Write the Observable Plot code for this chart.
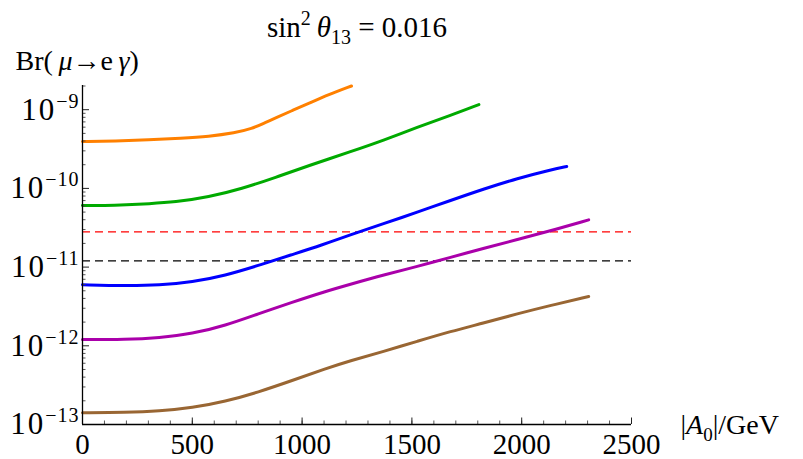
<!DOCTYPE html>
<html><head><meta charset="utf-8">
<script src="https://cdn.jsdelivr.net/npm/d3@7"></script>
<script src="https://cdn.jsdelivr.net/npm/@observablehq/plot@0.6"></script>
<style>
html,body{margin:0;padding:0;background:#fff;}
#chart svg{display:block;background:#fff;}
</style></head><body><div id="chart"></div>
<script>
// ---- data (A0 in GeV, Br values) ----
const seriesIds = ["s1", "s2", "s3", "s4", "s5"];

const a0_s1 = [0, 150, 300, 450, 575, 695, 770, 835, 880, 955, 1030, 1120, 1225];
const br_s1 = [3.94e-10, 4.00e-10, 4.14e-10, 4.34e-10, 4.57e-10, 5.09e-10, 5.71e-10, 6.92e-10, 7.85e-10, 9.77e-10, 1.20e-9, 1.55e-9, 2.0e-9];

const a0_s2 = [0, 100, 200, 300, 420, 575, 725, 880, 1030, 1220, 1370, 1525, 1675, 1805];
const br_s2 = [6.07e-11, 6.03e-11, 6.17e-11, 6.38e-11, 6.68e-11, 7.76e-11, 9.89e-11, 1.38e-10, 1.95e-10, 2.92e-10, 4.07e-10, 6.0e-10, 8.43e-10, 1.16e-9];

const a0_s3 = [0, 195, 350, 500, 650, 800, 950, 1090, 1220, 1370, 1525, 1675, 1830, 1980, 2132, 2205];
const br_s3 = [5.96e-12, 5.79e-12, 5.89e-12, 6.46e-12, 7.82e-12, 1.047e-11, 1.43e-11, 1.905e-11, 2.57e-11, 3.55e-11, 4.99e-11, 7.01e-11, 9.89e-11, 1.34e-10, 1.72e-10, 1.90e-10];

const a0_s4 = [0, 195, 350, 500, 650, 800, 955, 1105, 1230, 1370, 1525, 1675, 1830, 1980, 2130, 2305];
const br_s4 = [1.20e-12, 1.20e-12, 1.265e-12, 1.42e-12, 1.81e-12, 2.55e-12, 3.58e-12, 4.90e-12, 6.17e-12, 7.94e-12, 1.02e-11, 1.33e-11, 1.74e-11, 2.24e-11, 2.88e-11, 3.98e-11];

const a0_s5 = [0, 195, 350, 500, 650, 800, 955, 1105, 1220, 1370, 1525, 1675, 1830, 1980, 2130, 2305];
const br_s5 = [1.41e-13, 1.42e-13, 1.476e-13, 1.63e-13, 1.96e-13, 2.57e-13, 3.62e-13, 5.10e-13, 6.46e-13, 8.47e-13, 1.14e-12, 1.52e-12, 1.96e-12, 2.55e-12, 3.25e-12, 4.23e-12];

const limitValues = [2.8e-11, 1.2e-11];          // dashed horizontal bounds
const yMajorTicks = [1e-13, 1e-12, 1e-11, 1e-10, 1e-9];
const yMinorTicks = yMajorTicks.flatMap(d => [2,3,4,5,6,7,8,9].map(m => +(m * d).toPrecision(2))).filter(v => v <= 2.03e-9);
const xMajorTicks = [0, 500, 1000, 1500, 2000, 2500];
const xMinorTicks = d3.range(0, 2501, 100);

// ---- styles ----
const palette = ["#FF8000", "#00AA00", "#0000FF", "#AA00AA", "#996633"];
const limitColors = ["#FF0000", "#000000"];
const FONT = "'Liberation Serif', 'Times New Roman', serif";

const xs = [a0_s1, a0_s2, a0_s3, a0_s4, a0_s5];
const ys = [br_s1, br_s2, br_s3, br_s4, br_s5];
const rows = seriesIds.flatMap((id, i) => xs[i].map((x, j) => ({id, x, y: ys[i][j]})));

const W = 803, H = 459, mL = 82, mR = 172, mT = 85, mB = 35;
const pw = W - mL - mR, ph = H - mT - mB;

const chart = Plot.plot({
  width: W, height: H,
  marginLeft: mL, marginRight: mR, marginTop: mT, marginBottom: mB,
  style: {fontFamily: FONT, background: "#fff", color: "#000"},
  x: {domain: [0, 2500]},
  y: {type: "log", domain: [1e-13, 2.03e-9]},
  color: {domain: seriesIds, range: palette},
  marks: [
    Plot.ruleY(limitValues, {y: d => d, stroke: (d, i) => limitColors[i], strokeWidth: 1.2, strokeDasharray: "8,5"}),
    Plot.line(rows, {x: "x", y: "y", z: "id", stroke: "id", strokeWidth: 3, curve: "basis"}),
    Plot.tickY(yMinorTicks, {y: d => d, insetRight: pw - 3.5, stroke: "#444", strokeWidth: 0.9}),
    Plot.tickY(yMajorTicks, {y: d => d, insetRight: pw - 7, stroke: "#222", strokeWidth: 1}),
    Plot.tickX(xMinorTicks, {x: d => d, insetTop: ph - 3.5, stroke: "#444", strokeWidth: 0.9}),
    Plot.tickX(xMajorTicks, {x: d => d, insetTop: ph - 6.5, stroke: "#222", strokeWidth: 1}),
    Plot.ruleX([0], {stroke: "#000", strokeWidth: 1.3}),
    Plot.ruleY([1e-13], {stroke: "#000", strokeWidth: 1.3}),
    Plot.axisY({ticks: yMajorTicks, tickSize: 0, tickPadding: 3, fontSize: 31, label: null,
      tickFormat: d => "10^" + Math.round(Math.log10(d))}),
    Plot.axisX({ticks: xMajorTicks, tickSize: 0, tickPadding: 9, fontSize: 29, label: null,
      tickFormat: d => String(d)}),
    Plot.text(["TITLE"], {frameAnchor: "top", dy: -58, fontSize: 29, textAnchor: "middle", lineAnchor: "middle"}),
    Plot.text(["YLABEL"], {frameAnchor: "top-left", dx: -67, dy: -24, fontSize: 28, textAnchor: "start", lineAnchor: "middle"}),
    Plot.text(["XLABEL"], {frameAnchor: "bottom-right", dx: 49, dy: 1, fontSize: 28, textAnchor: "start", lineAnchor: "middle"})
  ]
});
document.getElementById("chart").appendChild(chart);

// rich text helper: parts [{t, sup, sub, it, size}]
function rich(el, parts, base) {
  const t = d3.select(el);
  t.text(null);
  let cur = 0;
  for (const p of parts) {
    const target = p.sup ? -Math.round(base * 0.40) : p.sub ? Math.round(base * 0.24) : 0;
    const ts = t.append("tspan").text(p.t);
    if (target !== cur) { ts.attr("dy", target - cur); cur = target; }
    if (p.size) ts.attr("font-size", p.size);
    if (p.it) ts.attr("font-style", "italic");
    if (p.ls) ts.attr("letter-spacing", p.ls);
  }
}
const svg = d3.select(chart);
svg.selectAll('[aria-label="y-axis tick label"] text').each(function() {
  const s = this.textContent; const e = s.split("^")[1];
  rich(this, [{t: "10", ls: 2}, {t: "\u2212" + Math.abs(+e), sup: true, size: 20, ls: 1}], 31);
});
svg.selectAll("text").each(function() {
  const s = this.textContent;
  if (s === "TITLE") rich(this, [{t: "sin"}, {t: "2", sup: true, size: 20}, {t: "\u2009"}, {t: "\u03B8", it: true},
    {t: "13", sub: true, size: 20}, {t: " = 0.016"}], 29);
  else if (s === "YLABEL") rich(this, [{t: "Br(\u2009"}, {t: "\u03BC", it: true}, {t: "\u2192e\u2009"}, {t: "\u03B3", it: true}, {t: ")"}], 28);
  else if (s === "XLABEL") rich(this, [{t: "|"}, {t: "A", it: true}, {t: "0", sub: true, size: 19}, {t: "|/GeV"}], 28);
});
</script></body></html>
